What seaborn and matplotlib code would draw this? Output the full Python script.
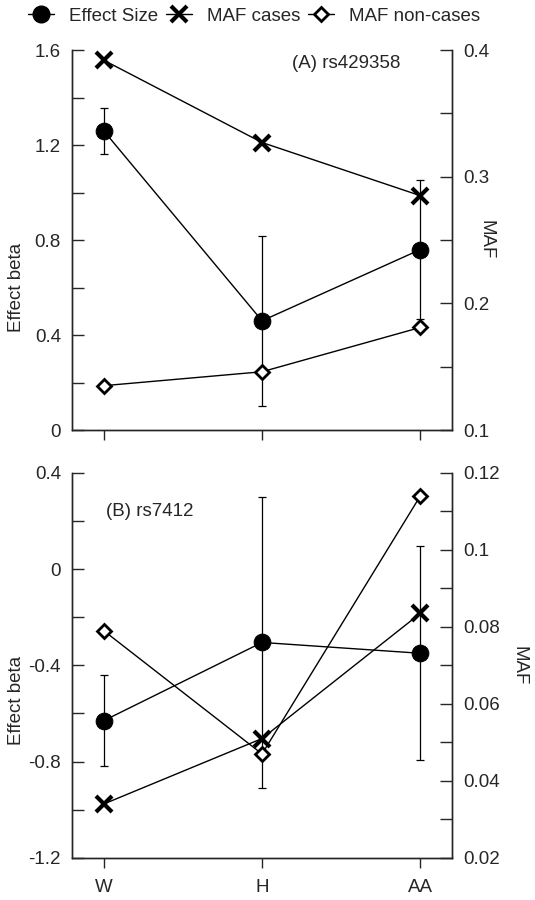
import numpy as np
import matplotlib
matplotlib.use('Agg')
import matplotlib.pyplot as plt
from matplotlib.lines import Line2D
from matplotlib.ticker import MultipleLocator, FuncFormatter
import seaborn as sns

# categorias
grupos = ['W', 'H', 'AA']
xpos = [0, 1, 2]

# (A) rs429358
a_beta = [1.26, 0.46, 0.76]
a_err = [0.098, 0.358, 0.292]
a_maf_cases = [0.392, 0.327, 0.285]
a_maf_non = [0.135, 0.146, 0.181]

# (B) rs7412
b_beta = [-0.63, -0.305, -0.35]
b_err = [0.188, 0.605, 0.445]
b_maf_cases = [0.034, 0.051, 0.0835]
b_maf_non = [0.079, 0.047, 0.114]

sns.set_style('ticks')
plt.rcParams['font.family'] = ['Liberation Sans', 'DejaVu Sans']
plt.rcParams['font.size'] = 13.5

estilo_beta = dict(marker='o', markersize=12, color='black', markeredgecolor='black', linewidth=1)
estilo_cases = dict(marker='x', markersize=11, markeredgewidth=3, color='black',
                    markeredgecolor='black', linewidth=1)
estilo_non = dict(marker='D', markersize=7.5, markeredgewidth=2, markerfacecolor='white',
                  markeredgecolor='black', color='black', linewidth=1)

fmt_g = FuncFormatter(lambda v, p: f'{v:g}')


def painel(fig, rect, beta, err, cases, non, ylim, ymaj, ymin, maflim, mafmaj, mafmin,
           rotulo, rotulo_xy, mostrar_x, ylab_y, maf_x):
    ax = fig.add_axes(rect)
    ax2 = ax.twinx()

    # MAF no eixo direito
    sns.lineplot(x=xpos, y=cases, ax=ax2, **estilo_cases)
    sns.lineplot(x=xpos, y=non, ax=ax2, **estilo_non)

    # efeito no eixo esquerdo
    ax.errorbar(xpos, beta, yerr=err, fmt='none', ecolor='black', elinewidth=0.9,
                capsize=2.7, capthick=0.9)
    sns.lineplot(x=xpos, y=beta, ax=ax, **estilo_beta)

    ax.set_xlim(-0.2, 2.2)
    ax.set_ylim(*ylim)
    ax2.set_ylim(*maflim)
    ax.yaxis.set_major_locator(MultipleLocator(ymaj))
    ax.yaxis.set_minor_locator(MultipleLocator(ymin))
    ax2.yaxis.set_major_locator(MultipleLocator(mafmaj))
    ax2.yaxis.set_minor_locator(MultipleLocator(mafmin))
    ax.yaxis.set_major_formatter(fmt_g)
    ax2.yaxis.set_major_formatter(fmt_g)
    ax.set_xticks(xpos)
    ax.set_xticklabels(grupos if mostrar_x else [])

    for a in (ax, ax2):
        a.spines['top'].set_visible(False)
        for s in a.spines.values():
            s.set_linewidth(1)
    ax.tick_params(axis='y', which='both', direction='in', length=8.5, width=1, pad=8)
    ax2.tick_params(axis='y', which='both', direction='in', length=8.5, width=1, pad=8)
    ax.tick_params(axis='x', direction='out', length=7, width=1, pad=8)

    ax.set_ylabel('Effect beta')
    ax.yaxis.set_label_coords(-0.125, ylab_y)
    ax2.set_ylabel('MAF', rotation=270, va='center')
    ax2.yaxis.set_label_coords(maf_x, 0.5)
    ax.text(rotulo_xy[0], rotulo_xy[1], rotulo, transform=ax.transAxes, ha='left', va='center')
    return ax, ax2


fig = plt.figure(figsize=(5.35, 9), dpi=100)

painel(fig, [0.1346, 0.5222, 0.7104, 0.4222], a_beta, a_err, a_maf_cases, a_maf_non,
       (0, 1.6), 0.4, 0.2, (0.1, 0.4), 0.1, 0.05,
       '(A) rs429358', (0.58, 0.965), False, 0.376, 1.09)

painel(fig, [0.1346, 0.0467, 0.7104, 0.4281], b_beta, b_err, b_maf_cases, b_maf_non,
       (-1.2, 0.4), 0.4, 0.2, (0.02, 0.12), 0.02, 0.01,
       '(B) rs7412', (0.09, 0.9), True, 0.41, 1.175)

handles = [Line2D([], [], **estilo_beta), Line2D([], [], **estilo_cases), Line2D([], [], **estilo_non)]
fig.legend(handles, ['Effect Size', 'MAF cases', 'MAF non-cases'], loc='upper center',
           bbox_to_anchor=(0.475, 1.01), ncol=3, frameon=False, handlelength=1.4,
           columnspacing=0.4, handletextpad=0.8)

fig.savefig('out.png', dpi=100)
